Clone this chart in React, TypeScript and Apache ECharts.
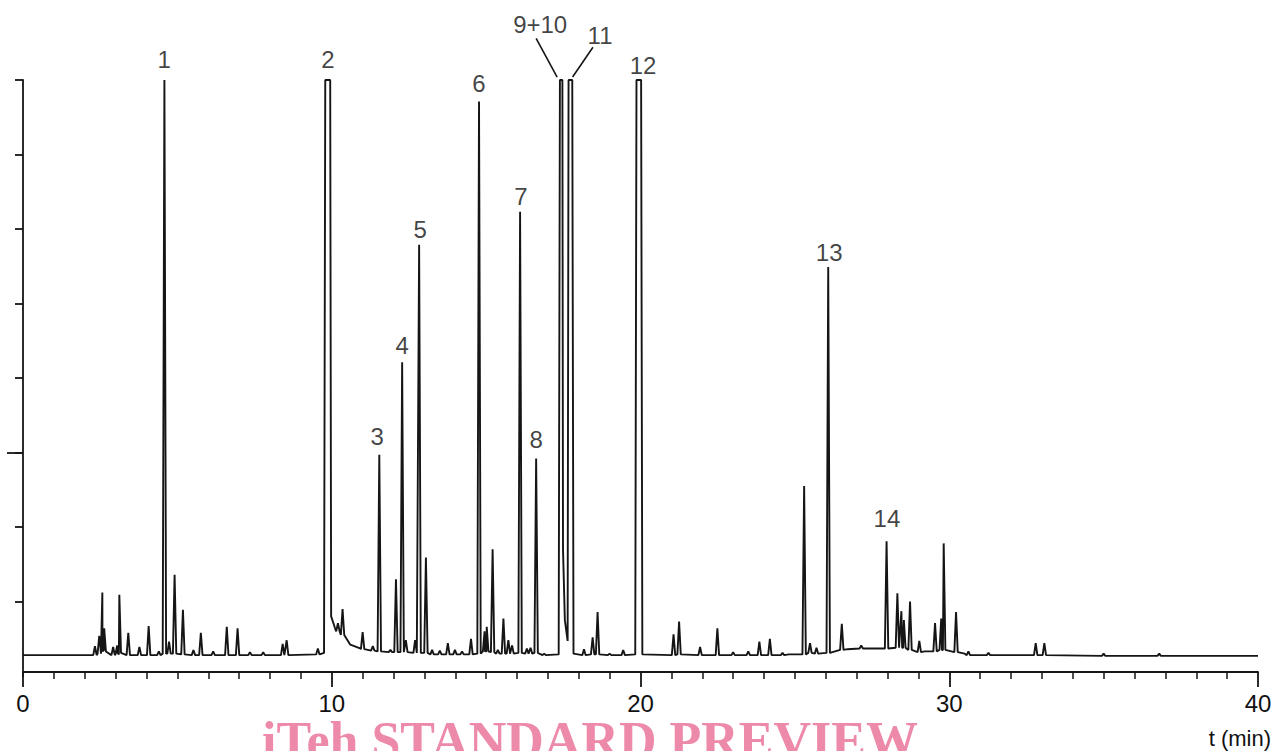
import React, { useEffect, useRef } from "react";
import * as echarts from "echarts";

// ---- data (time in min, response in detector units; baseline ≈ 0.28, full scale = 8) ----
const Y_TOP = 8; // detector full scale (overloaded peaks are flat at this level)
const HALF_WIDTH = 0.055; // min

// baseline / tail knots [t, response]
const baselineKnots: [number, number][] = [
  [0, 0.28], [2.2, 0.28],
  [9.75, 0.31], [9.98, 0.8], [10.1, 0.65], [10.6, 0.42], [10.92, 0.37],
  [17.35, 0.29], [17.49, 1.7], [17.55, 0.75], [17.64, 0.47], [17.83, 0.3],
  [19.83, 0.29], [20.06, 0.29],
  [24.8, 0.29], [26.7, 0.36], [27.6, 0.37], [29.2, 0.33], [30.5, 0.3],
  [40, 0.27],
];

// overloaded peaks [start, end] (flat top at full scale): 2, 9+10, 11, 12
const saturatedPeaks: [number, number][] = [
  [9.79, 9.95],
  [17.39, 17.47],
  [17.67, 17.79],
  [19.87, 20.02],
];

// peaks [t, apex, foot]
const peaksEarly: [number, number, number][] = [
  [2.33, 0.4, 0.28], [2.47, 0.54, 0.3], [2.57, 1.12, 0.35], [2.63, 0.64, 0.33],
  [2.92, 0.39, 0.28], [3.05, 0.41, 0.29], [3.12, 1.09, 0.31], [3.41, 0.58, 0.28],
  [3.77, 0.39, 0.28], [4.07, 0.67, 0.28], [4.4, 0.33, 0.28], [4.58, 8, 0.3],
  [4.73, 0.46, 0.3], [4.91, 1.36, 0.3], [5.18, 0.89, 0.29], [5.52, 0.35, 0.28],
  [5.76, 0.58, 0.28], [6.16, 0.33, 0.28], [6.6, 0.66, 0.28], [6.95, 0.64, 0.28],
  [7.35, 0.32, 0.28], [7.78, 0.32, 0.28], [8.41, 0.43, 0.28], [8.54, 0.48, 0.28],
  [9.55, 0.37, 0.29],
];
const peaksMiddle: [number, number, number][] = [
  [10.2, 0.71, 0.6], [10.35, 0.9, 0.55],
  [11.0, 0.59, 0.36], [11.33, 0.4, 0.34], [11.54, 2.97, 0.33], [11.9, 0.35, 0.32],
  [12.08, 1.3, 0.32], [12.28, 4.21, 0.32], [12.4, 0.48, 0.32], [12.7, 0.48, 0.31],
  [12.83, 5.79, 0.31], [13.05, 1.59, 0.31], [13.25, 0.35, 0.29], [13.5, 0.34, 0.29],
  [13.76, 0.44, 0.29], [13.99, 0.35, 0.29], [14.22, 0.33, 0.29], [14.51, 0.5, 0.29],
  [14.77, 7.71, 0.3], [14.95, 0.6, 0.33], [15.02, 0.66, 0.33], [15.21, 1.7, 0.32],
  [15.38, 0.35, 0.3], [15.56, 0.77, 0.3], [15.72, 0.48, 0.3], [15.84, 0.41, 0.3],
  [16.1, 6.23, 0.31], [16.32, 0.37, 0.3], [16.44, 0.38, 0.3], [16.62, 2.92, 0.31],
  [16.88, 0.3, 0.28], [18.17, 0.36, 0.28], [18.45, 0.52, 0.29], [18.61, 0.86, 0.29],
  [19.0, 0.3, 0.28], [19.44, 0.35, 0.28],
];
const peaksLate: [number, number, number][] = [
  [21.07, 0.56, 0.28], [21.25, 0.73, 0.29], [21.93, 0.39, 0.28], [22.49, 0.64, 0.28],
  [23.0, 0.32, 0.28], [23.49, 0.33, 0.28], [23.85, 0.46, 0.28], [24.19, 0.5, 0.28],
  [24.6, 0.31, 0.28], [25.3, 2.55, 0.29], [25.49, 0.44, 0.31], [25.7, 0.38, 0.3],
  [26.08, 5.49, 0.31], [26.52, 0.7, 0.35], [27.15, 0.41, 0.37], [27.97, 1.81, 0.37],
  [28.32, 1.11, 0.38], [28.45, 0.87, 0.38], [28.53, 0.75, 0.38], [28.73, 1.0, 0.35],
  [29.03, 0.47, 0.32], [29.54, 0.71, 0.33], [29.74, 0.77, 0.35], [29.82, 1.78, 0.35],
  [30.22, 0.86, 0.32], [30.62, 0.33, 0.28], [31.27, 0.31, 0.28], [32.8, 0.44, 0.28],
  [33.08, 0.44, 0.28], [35.0, 0.3, 0.27], [36.8, 0.3, 0.27],
];

// peak labels
const peakLabels = ["1", "2", "3", "4", "5", "6", "7", "8", "9+10", "11", "12", "13", "14"];
const peakLabelPos: [number, number][] = [
  [4.57, 8.27], [9.88, 8.27], [11.47, 3.22], [12.28, 4.44], [12.86, 5.99],
  [14.77, 7.95], [16.13, 6.44], [16.62, 3.17], [16.75, 8.74], [18.69, 8.6],
  [20.08, 8.2], [26.11, 5.69], [27.98, 2.12],
];
const leader910: [number, number][] = [[16.62, 8.56], [17.3, 8.04]];
const leader11: [number, number][] = [[18.46, 8.44], [17.8, 8.04]];

const xTicks = { min: 0, max: 40, interval: 10 };
const yTicks = { min: 0, max: 8, ticks: [1, 2, 3, 4, 5, 6, 7, 8], major: [3] };

function buildTrace(): [number, number][] {
  const pts: [number, number][] = [...baselineKnots];
  for (const [t, a, f] of [...peaksEarly, ...peaksMiddle, ...peaksLate]) {
    pts.push([t - HALF_WIDTH, f], [t, a], [t + HALF_WIDTH, f]);
  }
  for (const [a, b] of saturatedPeaks) pts.push([a, Y_TOP], [b, Y_TOP]);
  pts.sort((p, q) => p[0] - q[0]);
  return pts;
}

export default function App() {
  const ref = useRef<HTMLDivElement>(null);
  useEffect(() => {
    if (!ref.current) return;
    const chart = echarts.init(ref.current, undefined, { renderer: "svg" });
    const ink = "#151515";
    chart.setOption({
      animation: false,
      backgroundColor: "#ffffff",
      textStyle: { fontFamily: "Liberation Sans" },
      grid: { left: 23, right: 17, top: 80, bottom: 75 },
      xAxis: {
        type: "value",
        min: xTicks.min,
        max: xTicks.max,
        interval: xTicks.interval,
        offset: -4,
        axisLine: { show: true, onZero: false, lineStyle: { color: ink, width: 1.8 } },
        axisTick: { show: true, length: 15, lineStyle: { color: ink, width: 1.8 } },
        minorTick: { show: true, splitNumber: 10, length: 7, lineStyle: { color: ink, width: 1.5 } },
        splitLine: { show: false },
        axisLabel: { color: "#111", fontSize: 24, margin: 19, fontFamily: "Liberation Sans" },
      },
      yAxis: [
        {
          type: "value",
          min: yTicks.min,
          max: yTicks.max,
          axisLine: { show: true, onZero: false, lineStyle: { color: ink, width: 1.8 } },
          axisTick: { show: true, length: 8, customValues: yTicks.ticks, lineStyle: { color: ink, width: 1.8 } },
          axisLabel: { show: false },
          splitLine: { show: false },
        },
        {
          type: "value",
          min: yTicks.min,
          max: yTicks.max,
          position: "left",
          axisLine: { show: false },
          axisTick: { show: true, length: 16, customValues: yTicks.major, lineStyle: { color: ink, width: 1.8 } },
          axisLabel: { show: false },
          splitLine: { show: false },
        },
      ],
      series: [
        {
          type: "line",
          data: buildTrace(),
          showSymbol: false,
          symbol: "none",
          lineStyle: { color: ink, width: 1.9 },
          clip: false,
          z: 3,
        },
        {
          type: "line",
          data: leader910,
          symbol: "none",
          lineStyle: { color: ink, width: 1.6 },
          clip: false,
        },
        {
          type: "line",
          data: leader11,
          symbol: "none",
          lineStyle: { color: ink, width: 1.6 },
          clip: false,
        },
        {
          type: "scatter",
          symbolSize: 0,
          clip: false,
          data: peakLabelPos.map((p, i) => ({ value: p, name: peakLabels[i] })),
          label: {
            show: true,
            position: "inside",
            formatter: (p: any) => p.name,
            color: "#111",
            fontSize: 24,
            fontFamily: "Liberation Sans",
          },
          z: 5,
        },
      ],
      graphic: [
        {
          type: "text",
          x: 1271,
          y: 738,
          style: {
            text: "t (min)",
            fill: "#111",
            fontSize: 22,
            fontFamily: "Liberation Sans",
            align: "right",
            verticalAlign: "middle",
          },
        },
        {
          type: "text",
          x: 590,
          y: 740,
          style: {
            text: "iTeh STANDARD PREVIEW",
            fill: "#ee8aa9",
            fontSize: 52,
            fontWeight: "bold",
            fontFamily: "Liberation Serif",
            align: "center",
            verticalAlign: "middle",
          },
        },
      ],
    });
    return () => chart.dispose();
  }, []);
  return (
    <div
      ref={ref}
      style={{ position: "fixed", left: 0, top: 0, width: 1275, height: 751, background: "#fff" }}
    />
  );
}
